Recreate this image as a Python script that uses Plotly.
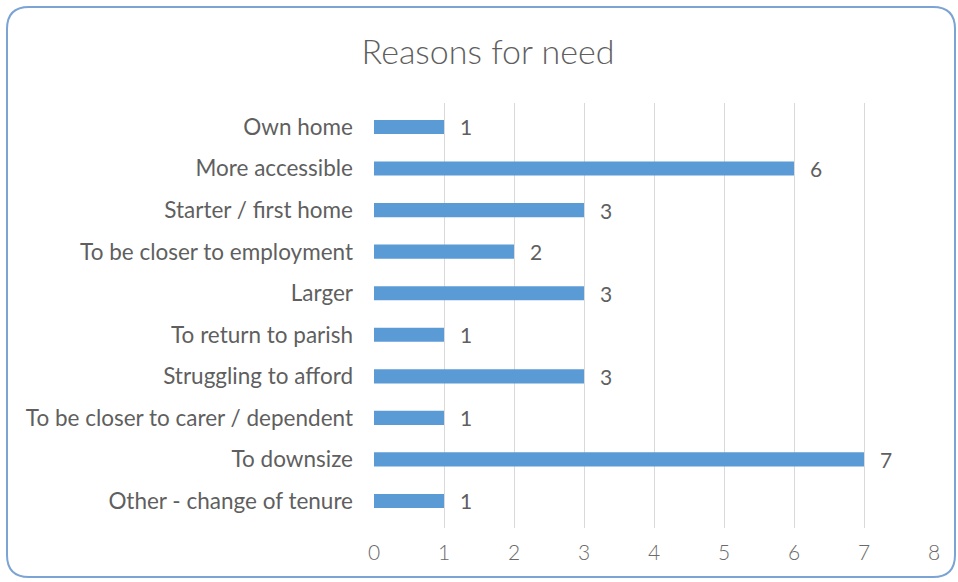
import plotly.graph_objects as go

categories = ["Own home", "More accessible", "Starter / first home", "To be closer to employment",
              "Larger", "To return to parish", "Struggling to afford",
              "To be closer to carer / dependent", "To downsize", "Other - change of tenure"]
values = [1, 6, 3, 2, 3, 1, 3, 1, 7, 1]
x_ticks = [0, 1, 2, 3, 4, 5, 6, 7, 8]

W, H = 958, 582
L, R, T, B = 374, 24, 103, 54
PW, PH = W - L - R, H - T - B

def px(x):
    return (x - L) / PW

def py(y):
    return 1 - (y - T) / PH

FONT = "Lato"
GREY = "#5F5F5F"

fig = go.Figure(go.Bar(
    x=values, y=categories, orientation="h",
    marker=dict(color="#5B9BD5", line=dict(width=0)),
    hoverinfo="x+y",
))

for c, v in zip(categories, values):
    fig.add_annotation(x=v, y=c, xref="x", yref="y", text=str(v), showarrow=False,
                       xanchor="left", xshift=14,
                       font=dict(family=FONT, size=21, color=GREY))

# rounded border
x0, x1, y0, y1 = 7, 955, 7, 577
r = 22
path = (f"M {px(x0 + r)} {py(y0)} L {px(x1 - r)} {py(y0)} "
        f"Q {px(x1)} {py(y0)} {px(x1)} {py(y0 + r)} L {px(x1)} {py(y1 - r)} "
        f"Q {px(x1)} {py(y1)} {px(x1 - r)} {py(y1)} L {px(x0 + r)} {py(y1)} "
        f"Q {px(x0)} {py(y1)} {px(x0)} {py(y1 - r)} L {px(x0)} {py(y0 + r)} "
        f"Q {px(x0)} {py(y0)} {px(x0 + r)} {py(y0)} Z")
fig.add_shape(type="path", path=path, xref="paper", yref="paper",
              line=dict(color="#7BA3D3", width=2), layer="below")

n = len(categories)
fig.update_layout(
    width=W, height=H,
    margin=dict(l=L, r=R, t=T, b=B),
    paper_bgcolor="white", plot_bgcolor="white",
    showlegend=False,
    bargap=0.66,
    title=dict(text="Reasons for need", x=488 / W, xref="container", xanchor="center",
               y=1 - 52 / H, yref="container", yanchor="middle",
               font=dict(family=FONT, size=34, color=GREY, weight=300)),
    xaxis=dict(range=[0, 8], tickvals=x_ticks, showgrid=True, gridcolor="#D9D9D9", gridwidth=1,
               zeroline=False, showline=False, ticks="",
               tickfont=dict(family=FONT, size=21, color="#6A6A6A", weight=300), ticklabelstandoff=10),
    yaxis=dict(range=[n - 1 + 0.65, -0.577], showgrid=False, zeroline=False, showline=False, ticks="",
               tickfont=dict(family=FONT, size=22.5, color=GREY), ticklabelstandoff=20),
)

fig.write_html("out.html")
